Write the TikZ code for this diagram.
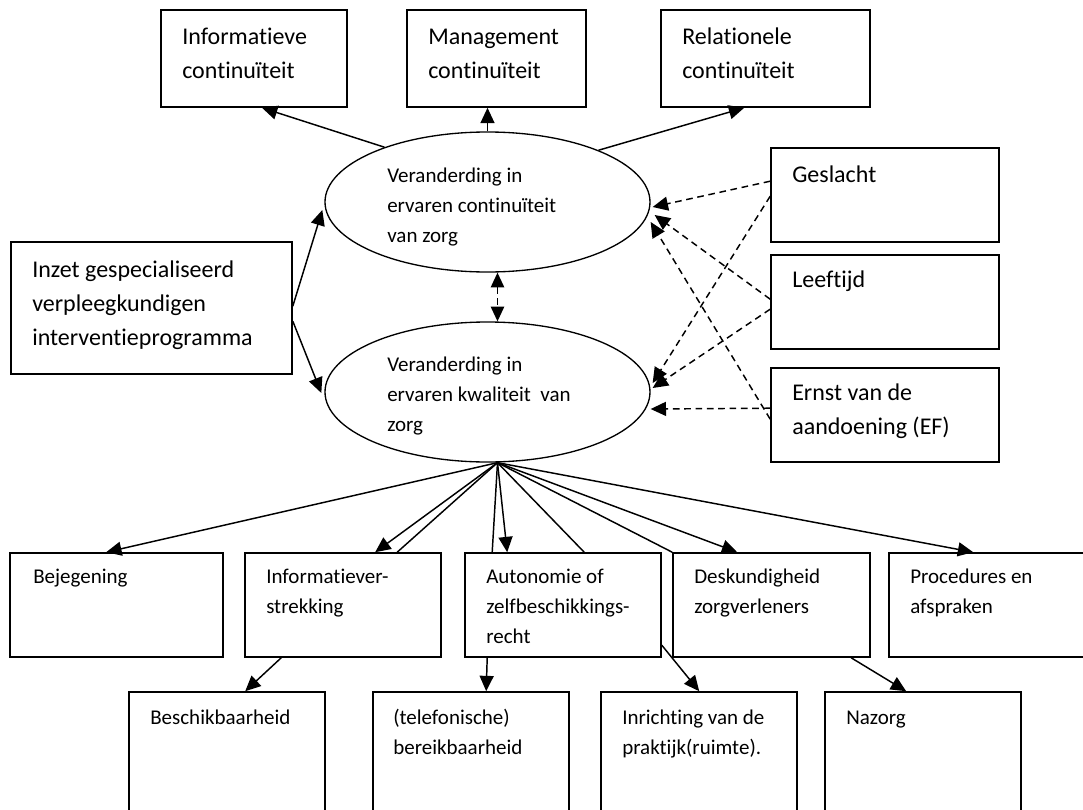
\documentclass[tikz,border=0pt]{standalone}
\usepackage{fontspec}
\setmainfont{Carlito}[Ligatures=NoCommon]
\usepackage{tikz}
\usetikzlibrary{arrows.meta,calc,shapes.geometric}

\tikzset{
	blok/.style={draw, rectangle, line width=1.2pt, inner sep=0pt},
	ovaal/.style={draw, ellipse, line width=1pt, inner sep=0pt, minimum width=243.75pt, minimum height=105pt},
	groot/.style={anchor=base west, inner sep=0pt, align=left, font=\fontsize{18}{25.5}\selectfont},
	klein/.style={anchor=base west, inner sep=0pt, align=left, font=\fontsize{15.75}{22.5}\selectfont},
	lijn/.style={line width=1.1pt},
	pijl/.style={lijn, -{Triangle[length=11.5pt,width=10.5pt]}},
	stippel/.style={pijl, dash pattern=on 5pt off 3.5pt},
}

\begin{document}
\begin{tikzpicture}[x=0.75pt,y=0.75pt,yscale=-1,xscale=1]
	\useasboundingbox (0,0) rectangle (1083,810);
	\clip (0,0) rectangle (1083,810);
	
	%Shape: Rectangle [continuiteit]
	\node[blok, minimum width=139.5pt, minimum height=72.75pt] (info) at (254,58.5) {};
	\node[blok, minimum width=134.25pt, minimum height=72.75pt] (mgmt) at (496.5,58.5) {};
	\node[blok, minimum width=156.75pt, minimum height=72.75pt] (rel) at (765.5,58.5) {};
	%Shape: Rectangle [interventie]
	\node[blok, minimum width=210.75pt, minimum height=99pt] (inz) at (151.5,308) {};
	%Shape: Rectangle [covariaten]
	\node[blok, minimum width=171pt, minimum height=70.5pt] (gesl) at (885,195) {};
	\node[blok, minimum width=171pt, minimum height=70.5pt] (leef) at (885,302) {};
	\node[blok, minimum width=171pt, minimum height=70.5pt] (ernst) at (885,415) {};
	%Shape: Rectangle [kwaliteit]
	\node[blok, minimum width=159.75pt, minimum height=78pt] (bej) at (116.5,605) {};
	\node[blok, minimum width=147pt, minimum height=78pt] (inf) at (343,605) {};
	\node[blok, minimum width=147pt, minimum height=78pt] (aut) at (563,605) {};
	\node[blok, minimum width=147.75pt, minimum height=78pt] (desk) at (771.5,605) {};
	\node[blok, minimum width=150.75pt, minimum height=78pt] (proc) at (989.5,605) {};
	%Shape: Rectangle [onderste rij]
	\node[blok, minimum width=147pt, minimum height=96pt] (besch) at (227,756) {};
	\node[blok, minimum width=147pt, minimum height=96pt] (tel) at (471,756) {};
	\node[blok, minimum width=147pt, minimum height=96pt] (inr) at (699,756) {};
	\node[blok, minimum width=147pt, minimum height=96pt] (naz) at (923,756) {};
	%Shape: Ellipse
	\node[ovaal] (ell1) at (487.5,202) {};
	\node[ovaal] (ell2) at (487.5,392) {};
	
	%Straight Lines [naar continuiteit]
	\draw[pijl] (ell1.152) -- ($(info.south)+(8,0)$);
	\draw[pijl] (ell1.north) -- (ell1.north |- mgmt.south);
	\draw[pijl] (ell1.25) -- ($(rel.south west)+(84,0)$);
	%Straight Lines [interventie]
	\draw[pijl] ($(inz.north east)+(0,65)$) -- ($(ell1.west)+(-2,8)$);
	\draw[pijl] ($(inz.north east)+(0,80)$) -- ($(ell2.west)+(-3,1)$);
	\draw[stippel, {Triangle[length=11pt,width=10pt]}-{Triangle[length=11pt,width=10pt]}] ($(ell1.south)+(10,0)$) -- ($(ell2.north)+(10,0)$);
	%Straight Lines [covariaten]
	\draw[stippel] ($(gesl.north west)+(0,34)$) -- ($(ell1.east)+(2,5)$);
	\draw[stippel] ($(gesl.north west)+(0,49)$) -- ($(ell2.east)+(2,-9)$);
	\draw[stippel] ($(leef.north west)+(0,45)$) -- ($(ell1.east)+(4,13)$);
	\draw[stippel] ($(leef.north west)+(0,55)$) -- ($(ell2.east)+(2,-4)$);
	\draw[stippel] ($(ernst.north west)+(0,41)$) -- ($(ell2.east)+(0,17)$);
	\draw[stippel] ($(ernst.north west)+(0,52)$) -- ($(ell1.east)+(0,20)$);
	%Straight Lines [waaier]
	\coordinate (fan) at ($(ell2.south)+(10,0)$);
	\draw[pijl] (fan) -- ($(bej.north west)+(97,0)$);
	\draw[pijl] (fan) -- ($(inf.north west)+(131,0)$);
	\draw[lijn] (fan) -- ($(inf.north west)+(153,0)$);
	\draw[lijn] (fan) -- ($(aut.north west)+(28,0)$);
	\draw[pijl] (fan) -- ($(aut.north west)+(43,0)$);
	\draw[lijn] (fan) -- ($(aut.north west)+(120,0)$);
	\draw[lijn] (fan) -- (desk.north west);
	\draw[pijl] (fan) -- ($(desk.north west)+(65,0)$);
	\draw[pijl] (fan) -- ($(proc.north west)+(85,0)$);
	%Straight Lines [onderste rij]
	\draw[pijl] ($(inf.south west)+(37,0)$) -- ($(besch.north west)+(117,0)$);
	\draw[pijl] ($(aut.south west)+(23,0)$) -- ($(tel.north west)+(114,0)$);
	\draw[pijl] ($(aut.north east)+(0,93)$) -- ($(inr.north west)+(99,0)$);
	\draw[pijl] ($(desk.south west)+(179,0)$) -- ($(naz.north west)+(82,0)$);
	
	% Text Node (base = laatste regel)
	\node[groot] (t-info) at (182,78) {Informatieve\\continuïteit};
	\node[groot] (t-mgmt) at (428,78) {Management\\continuïteit};
	\node[groot] (t-rel) at (682,78) {Relationele\\continuïteit};
	% Text Node
	\node[groot, font=\fontsize{18}{25.2}\selectfont] (t-inz) at (32,345) {Inzet gespecialiseerd\\verpleegkundigen\\interventieprogramma};
	% Text Node
	\node[klein] (t-ell1) at (387,242) {Veranderding in\\ervaren continuïteit\\van zorg};
	\node[klein] (t-ell2) at (387,431) {Veranderding in\\ervaren kwaliteit~ van\\zorg};
	% Text Node
	\node[groot] (t-gesl) at (792,182) {Geslacht};
	\node[groot] (t-leef) at (792,287) {Leeftijd};
	\node[groot] (t-ernst) at (792,434) {Ernst van de\\aandoening (EF)};
	% Text Node
	\node[klein] (t-bej) at (33,583) {Bejegening};
	\node[klein] (t-inf) at (266,613) {Informatiever-\\strekking};
	\node[klein] (t-aut) at (486,643) {Autonomie of\\zelfbeschikkings-\\recht};
	\node[klein] (t-desk) at (694,613) {Deskundigheid\\zorgverleners};
	\node[klein] (t-proc) at (910,613) {Procedures en\\afspraken};
	% Text Node
	\node[klein] (t-besch) at (150,724) {Beschikbaarheid};
	\node[klein] (t-tel) at (393,754) {(telefonische)\\bereikbaarheid};
	\node[klein] (t-inr) at (622,754) {Inrichting van de\\praktijk(ruimte).};
	\node[klein] (t-naz) at (846,724) {Nazorg};
	
\end{tikzpicture}
\end{document}
